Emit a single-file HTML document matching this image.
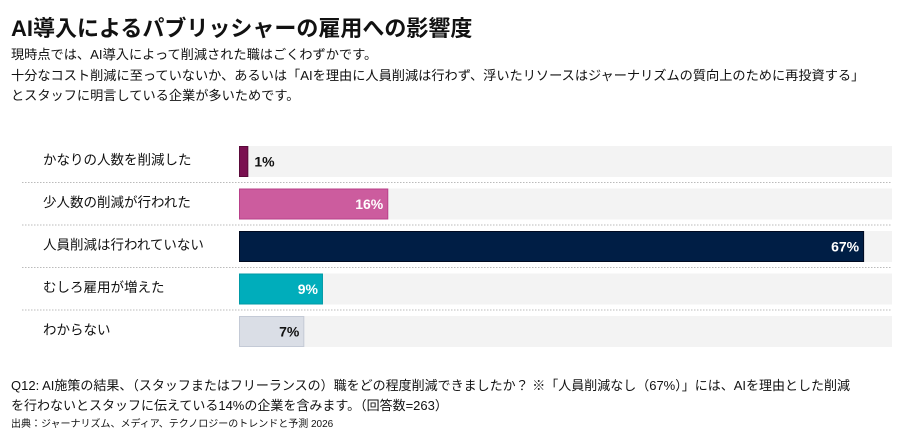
<!DOCTYPE html>
<html><head><meta charset="utf-8">
<style>
body{margin:0;width:913px;height:437px;background:#fff;font-family:"Liberation Sans","Noto Sans CJK JP",sans-serif;color:#111;position:relative;overflow:hidden}
.t{position:absolute;white-space:nowrap}
#title{left:11px;top:11px;font-size:22px;font-weight:bold}
.sub{left:11px;font-size:13.2px}
.foot{left:11px;font-size:13px}
#src{left:11px;top:415px;font-size:10px}
</style></head><body>
<div class="t" id="title">AI導入によるパブリッシャーの雇用への影響度</div>
<div class="t sub" style="top:44px">現時点では、AI導入によって削減された職はごくわずかです。</div>
<div class="t sub" style="top:65px">十分なコスト削減に至っていないか、あるいは「AIを理由に人員削減は行わず、浮いたリソースはジャーナリズムの質向上のために再投資する」</div>
<div class="t sub" style="top:85px">とスタッフに明言している企業が多いためです。</div>
<svg id="chart" width="913" height="437" style="position:absolute;left:0;top:0"></svg>
<div class="t foot" style="top:375px">Q12: AI施策の結果、（スタッフまたはフリーランスの）職をどの程度削減できましたか？ ※「人員削減なし（67%）」には、AIを理由とした削減</div>
<div class="t foot" style="top:395px">を行わないとスタッフに伝えている14%の企業を含みます。（回答数=263）</div>
<div class="t" id="src">出典：ジャーナリズム、メディア、テクノロジーのトレンドと予測 2026</div>
<script>
const categories=["かなりの人数を削減した","少人数の削減が行われた","人員削減は行われていない","むしろ雇用が増えた","わからない"];
const values=[1,16,67,9,7];
const labels=["1%","16%","67%","9%","7%"];
const colors=["#7a1050","#cc5c9e","#001e45","#00adbb","#dadee6"];
const strokes=["#5a0a3a","#b8408a","#000a20","#009aa6","#c4cad6"];
const textColors=["#111","#fff","#fff","#fff","#111"];
const svg=document.getElementById('chart');
const NS="http://www.w3.org/2000/svg";
const x0=239,trackEnd=892,pxPer=9.33;
function xs(v){return x0+v*pxPer;}
function yRow(i){return 146+i*42.5;}
const rowH=31;
function mk(tag,attrs){const e=document.createElementNS(NS,tag);for(const k in attrs)e.setAttribute(k,attrs[k]);svg.appendChild(e);return e;}
categories.forEach((c,i)=>{
  const y=yRow(i);
  const tr=mk('rect',{x:x0,y:y,width:trackEnd-x0,height:rowH,fill:'#f3f3f3'});
  
  
  if(i>0){const ln=mk('line',{x1:22,x2:892,y1:y-6,y2:y-6,stroke:'#bbb','stroke-dasharray':'1.5,1.5','stroke-width':1});
    
    }
  const lb=mk('text',{x:43,y:y+rowH/2+3,'font-size':13.5,fill:'#111'});
  lb.textContent=c;
  
  
  const w=xs(values[i])-x0;
  const b=mk('rect',{x:x0+0.5,y:y+0.5,width:w-1,height:rowH-1,fill:colors[i],stroke:strokes[i],'stroke-width':1});
  
  
  const inside=w>40;
  const vt=mk('text',{x:inside?xs(values[i])-5:xs(values[i])+6,y:y+rowH/2+5,'font-size':14,'font-weight':'bold',fill:inside?textColors[i]:'#111','text-anchor':inside?'end':'start'});
  vt.textContent=labels[i];
  
  
});
</script>
</body></html>
